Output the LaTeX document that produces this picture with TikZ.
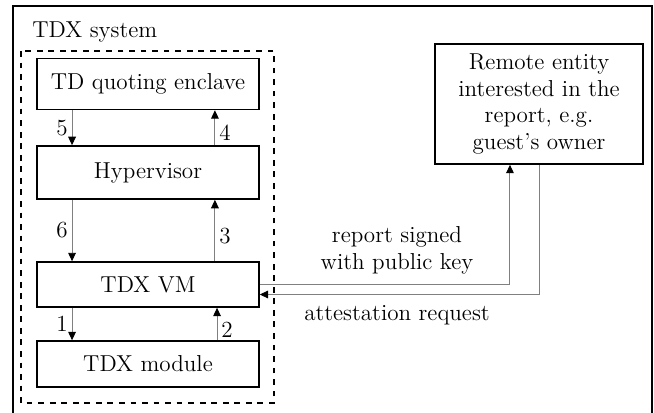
\documentclass[tikz,border=0pt]{standalone}
\usepackage{amsmath,amssymb}
\usepackage{tikz}
\usetikzlibrary{arrows.meta}

\begin{document}
\begin{tikzpicture}[x=0.52pt,y=-0.52pt,
    box/.style={draw,line width=0.8pt,minimum width=115.4pt,font=\large,inner sep=2pt},
    flow/.style={gray,line width=0.5pt,-{Triangle[black,length=4.4pt,width=4pt]}},
    num/.style={font=\large,inner sep=2pt,text=black},
    lbl/.style={font=\large,align=center,inner sep=0pt}]
    \useasboundingbox (0,0) rectangle (654,412);
    \draw[line width=1pt] (13,420) -- (13,6) -- (652,6) -- (652,420);
    \node[anchor=base west,font=\large,inner sep=0pt] (sys) at (32,38) {TDX system};
    \draw[dashed,line width=0.8pt] (21,51) rectangle (274,403);
    \node[box,minimum height=26.5pt] (quote) at (148,84) {TD quoting enclave};
    \node[box,minimum height=27.6pt] (hyp) at (148,172.5) {Hypervisor};
    \node[box,minimum height=23.4pt] (vm) at (148,284.5) {TDX VM};
    \node[box,minimum height=23.9pt] (mod) at (148,364) {TDX module};
    \node[box,minimum width=108.2pt,minimum height=62.4pt,align=center] (remote) at (539,104)
        {Remote entity\\interested in the\\report, e.g.\\guest's owner};
    \draw[flow] ([xshift=-39.5pt]quote.south) -- ([xshift=-39.5pt]hyp.north) node[num,midway,left] {5};
    \draw[flow] ([xshift=34.8pt]hyp.north) -- ([xshift=34.8pt]quote.south) node[num,pos=0.37,right] {4};
    \draw[flow] ([xshift=-39.5pt]hyp.south) -- ([xshift=-39.5pt]vm.north) node[num,midway,left] {6};
    \draw[flow] ([xshift=34.8pt]vm.north) -- ([xshift=34.8pt]hyp.south) node[num,pos=0.41,right] {3};
    \draw[flow] ([xshift=-39.5pt]vm.south) -- ([xshift=-39.5pt]mod.north) node[num,midway,left] {1};
    \draw[flow] ([xshift=35.9pt]mod.north) -- ([xshift=35.9pt]vm.south) node[num,pos=0.33,right] {2};
    \draw[flow] (vm.east) -| ([xshift=-15.1pt]remote.south);
    \draw[flow] (remote.south) |- ([yshift=-5.2pt]vm.east);
    \node[lbl] (signed) at (397,250) {report signed\\with public key};
    \node[lbl] (req) at (397,315) {attestation request};
\end{tikzpicture}
\end{document}
